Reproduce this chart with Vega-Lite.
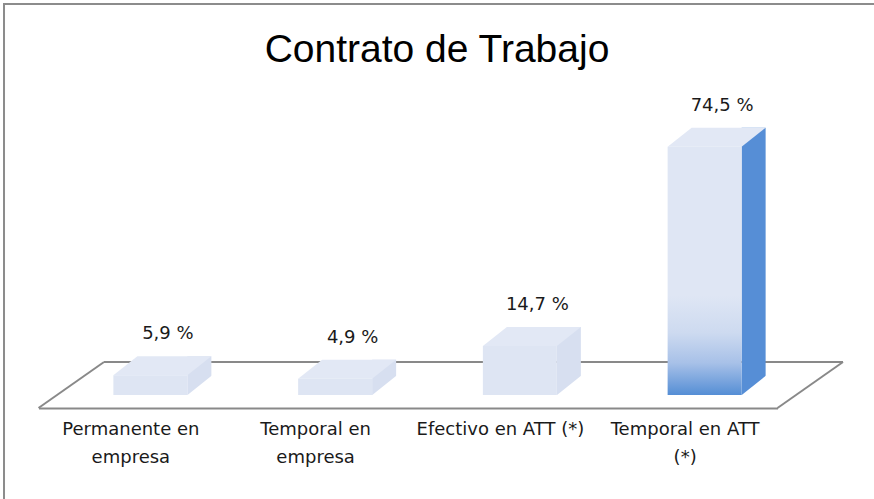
{
  "$schema": "https://vega.github.io/schema/vega-lite/v6.json",
  "width": 874,
  "height": 499,
  "autosize": "none",
  "padding": 0,
  "background": "white",
  "config": {"view": {"stroke": null}, "font": "DejaVu Sans"},
  "title": {"text": "Contrato de Trabajo", "font": "Liberation Sans", "fontSize": 39, "fontWeight": "normal", "color": "#000000", "anchor": "middle", "frame": "group", "baseline": "alphabetic", "offset": -101},
  "datasets": {
    "contrato": [
      {"categoria": "Permanente en empresa", "valor": 5.9, "etiqueta": "5,9 %"},
      {"categoria": "Temporal en empresa", "valor": 4.9, "etiqueta": "4,9 %"},
      {"categoria": "Efectivo en ATT (*)", "valor": 14.7, "etiqueta": "14,7 %"},
      {"categoria": "Temporal en ATT (*)", "valor": 74.5, "etiqueta": "74,5 %"}
    ],
    "suelo": [{"elemento": "suelo"}]
  },
  "layer": [
    {
      "data": {"name": "suelo"},
      "mark": {"type": "rule", "color": "#898989", "strokeWidth": 2},
      "encoding": {
        "x": {"datum": 0.3545, "type": "quantitative", "scale": {"domain": [-0.2084, 4.5223], "nice": false, "zero": false}, "axis": null},
        "x2": {"datum": 4.3545},
        "y": {"datum": 9.9, "type": "quantitative", "scale": {"domain": [-31.2, 118.5], "nice": false, "zero": false}, "axis": null}
      }
    },
    {
      "data": {"name": "suelo"},
      "mark": {"type": "rule", "color": "#8C8C8C", "strokeWidth": 2},
      "encoding": {
        "x": {"datum": -0.1867, "type": "quantitative", "scale": {"domain": [-0.2084, 4.5223], "nice": false, "zero": false}, "axis": null},
        "x2": {"datum": 4.5223},
        "y": {"datum": 117.3, "type": "quantitative", "scale": {"domain": [-31.2, 118.5], "nice": false, "zero": false}, "axis": null}
      }
    },
    {
      "data": {"name": "suelo"},
      "mark": {"type": "rule", "color": "#8C8C8C", "strokeWidth": 2},
      "encoding": {
        "x": {"datum": -0.1867, "type": "quantitative", "scale": {"domain": [-0.2084, 4.5223], "nice": false, "zero": false}, "axis": null},
        "y": {"datum": -31.2, "type": "quantitative", "scale": {"domain": [-31.2, 118.5], "nice": false, "zero": false}, "axis": null},
        "y2": {"datum": 117.6}
      }
    },
    {
      "data": {"name": "suelo"},
      "mark": {"type": "rule", "color": "#898989", "strokeWidth": 2},
      "encoding": {
        "x": {"datum": 0, "type": "quantitative", "scale": {"domain": [-0.2084, 4.5223], "nice": false, "zero": false}, "axis": null},
        "x2": {"datum": 0.3545},
        "y": {"datum": -3.9, "type": "quantitative", "scale": {"domain": [-31.2, 118.5], "nice": false, "zero": false}, "axis": null},
        "y2": {"datum": 9.9}
      }
    },
    {
      "data": {"name": "suelo"},
      "mark": {"type": "rule", "color": "#898989", "strokeWidth": 2},
      "encoding": {
        "x": {"datum": 4, "type": "quantitative", "scale": {"domain": [-0.2084, 4.5223], "nice": false, "zero": false}, "axis": null},
        "x2": {"datum": 4.3545},
        "y": {"datum": -3.9, "type": "quantitative", "scale": {"domain": [-31.2, 118.5], "nice": false, "zero": false}, "axis": null},
        "y2": {"datum": 9.9}
      }
    },
    {
      "data": {"name": "contrato"},
      "mark": {"type": "bar", "width": 24, "xOffset": 68.5, "yOffset": -19, "y2Offset": 0},
      "encoding": {
        "x": {"field": "categoria", "type": "nominal", "sort": null, "scale": {"type": "band", "domain": ["Permanente en empresa", "Temporal en empresa", "Efectivo en ATT (*)", "Temporal en ATT (*)"], "range": [38.5, 777.5], "paddingInner": 0, "paddingOuter": 0}, "axis": null},
        "y": {"field": "valor", "type": "quantitative", "scale": {"domain": [-31.2, 118.5], "nice": false, "zero": false}, "axis": null},
        "y2": {"datum": 0},
        "color": {"condition": {"test": "datum.categoria == 'Temporal en ATT (*)'", "value": "#568ED6"}, "value": "#D7DFF0"}
      }
    },
    {
      "data": {"name": "contrato"},
      "mark": {"type": "point", "shape": "M -0.5 0.5 L 24.5 -19.5 L 25 -19.5 L 25 2 L -0.5 2 Z", "size": 4, "filled": true, "opacity": 1, "strokeWidth": 0, "color": "white", "xOffset": 56.5},
      "encoding": {
        "x": {"field": "categoria", "type": "nominal", "sort": null, "scale": {"type": "band", "domain": ["Permanente en empresa", "Temporal en empresa", "Efectivo en ATT (*)", "Temporal en ATT (*)"], "range": [38.5, 777.5], "paddingInner": 0, "paddingOuter": 0}, "axis": null},
        "y": {"datum": 0, "type": "quantitative", "scale": {"domain": [-31.2, 118.5], "nice": false, "zero": false}, "axis": null}
      }
    },
    {
      "data": {"name": "contrato"},
      "mark": {"type": "point", "shape": "M 0 0 L 74 0 L 98 -19 L 24 -19 Z", "size": 4, "filled": true, "opacity": 1, "strokeWidth": 0, "color": "#E2E8F5", "xOffset": -17.5},
      "encoding": {
        "x": {"field": "categoria", "type": "nominal", "sort": null, "scale": {"type": "band", "domain": ["Permanente en empresa", "Temporal en empresa", "Efectivo en ATT (*)", "Temporal en ATT (*)"], "range": [38.5, 777.5], "paddingInner": 0, "paddingOuter": 0}, "axis": null},
        "y": {"field": "valor", "type": "quantitative", "scale": {"domain": [-31.2, 118.5], "nice": false, "zero": false}, "axis": null}
      }
    },
    {
      "data": {"name": "contrato"},
      "transform": [{"filter": "datum.categoria != 'Temporal en ATT (*)'"}],
      "mark": {"type": "bar", "width": 74, "xOffset": 19.5, "color": "#DEE5F3"},
      "encoding": {
        "x": {"field": "categoria", "type": "nominal", "sort": null, "scale": {"type": "band", "domain": ["Permanente en empresa", "Temporal en empresa", "Efectivo en ATT (*)", "Temporal en ATT (*)"], "range": [38.5, 777.5], "paddingInner": 0, "paddingOuter": 0}, "axis": null},
        "y": {"field": "valor", "type": "quantitative", "scale": {"domain": [-31.2, 118.5], "nice": false, "zero": false}, "axis": null},
        "y2": {"datum": 0}
      }
    },
    {
      "data": {"name": "contrato"},
      "transform": [{"filter": "datum.categoria == 'Temporal en ATT (*)'"}],
      "mark": {"type": "bar", "width": 74, "xOffset": 19.5, "color": {"gradient": "linear", "x1": 0, "y1": 0, "x2": 0, "y2": 1, "stops": [{"offset": 0, "color": "#DFE6F4"}, {"offset": 0.6, "color": "#DFE6F4"}, {"offset": 0.75, "color": "#CDDAF0"}, {"offset": 0.87, "color": "#A8C1E8"}, {"offset": 1, "color": "#558ED5"}]}},
      "encoding": {
        "x": {"field": "categoria", "type": "nominal", "sort": null, "scale": {"type": "band", "domain": ["Permanente en empresa", "Temporal en empresa", "Efectivo en ATT (*)", "Temporal en ATT (*)"], "range": [38.5, 777.5], "paddingInner": 0, "paddingOuter": 0}, "axis": null},
        "y": {"field": "valor", "type": "quantitative", "scale": {"domain": [-31.2, 118.5], "nice": false, "zero": false}, "axis": null},
        "y2": {"datum": 0}
      }
    },
    {
      "data": {"name": "contrato"},
      "mark": {"type": "text", "xOffset": 37, "dy": -36, "baseline": "alphabetic", "align": "center", "font": "DejaVu Sans", "fontSize": 18, "color": "#1a1a1a"},
      "encoding": {
        "x": {"field": "categoria", "type": "nominal", "sort": null, "scale": {"type": "band", "domain": ["Permanente en empresa", "Temporal en empresa", "Efectivo en ATT (*)", "Temporal en ATT (*)"], "range": [38.5, 777.5], "paddingInner": 0, "paddingOuter": 0}, "axis": {"orient": "bottom", "offset": -91, "domain": true, "domainColor": "#898989", "domainWidth": 2, "ticks": false, "grid": false, "title": null, "labelAngle": 0, "labelFont": "DejaVu Sans", "labelFontSize": 18, "labelColor": "#1a1a1a", "labelPadding": 12, "labelLineHeight": 28, "labelBaseline": "top", "labelOverlap": false, "labelExpr": "datum.value == 'Efectivo en ATT (*)' ? datum.value : (datum.value == 'Temporal en ATT (*)' ? ['Temporal en ATT', '(*)'] : [substring(datum.value, 0, lastindexof(datum.value, ' ')), substring(datum.value, lastindexof(datum.value, ' ') + 1)])"}},
        "y": {"field": "valor", "type": "quantitative", "scale": {"domain": [-31.2, 118.5], "nice": false, "zero": false}, "axis": null},
        "text": {"field": "etiqueta"}
      }
    }
  ],
  "resolve": {"scale": {"x": "independent"}, "axis": {"x": "independent"}}
}
